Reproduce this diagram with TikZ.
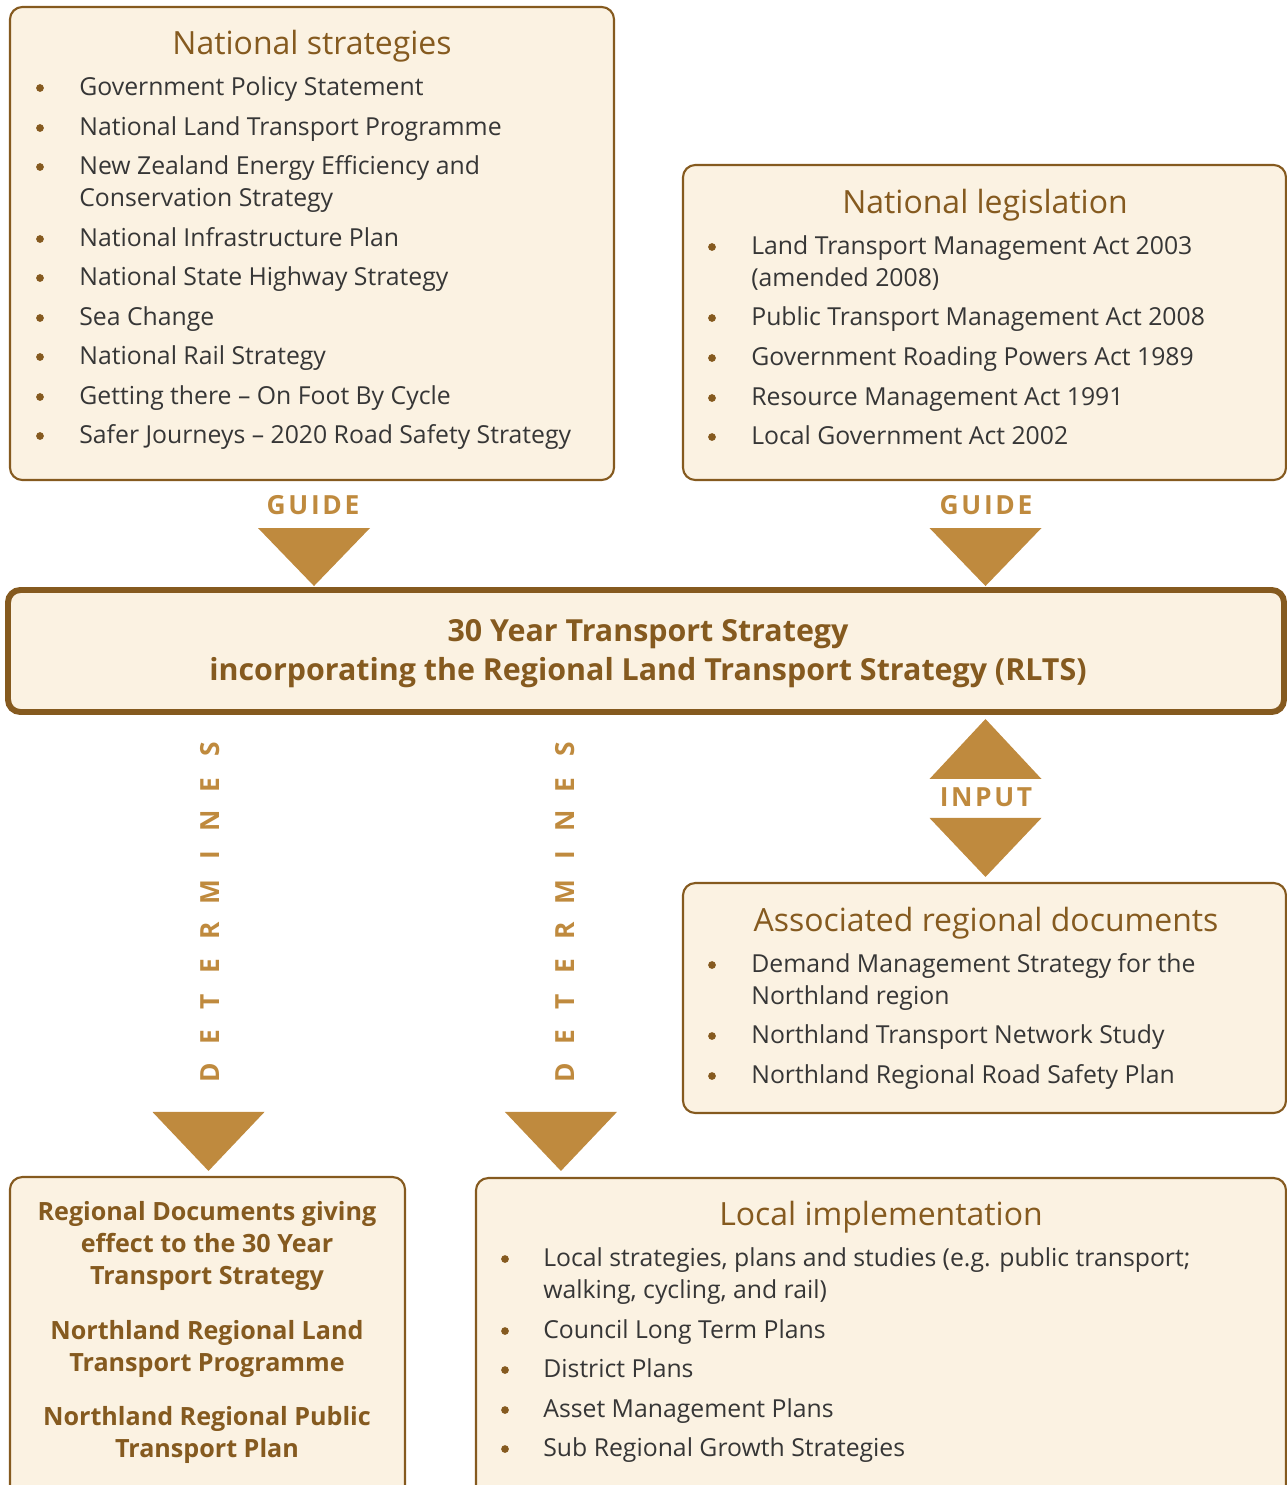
\documentclass[tikz,border=0pt]{standalone}
\usepackage{fontspec}
\setmainfont{Open Sans}
\usetikzlibrary{calc,fit}
\definecolor{nrcbrown}{HTML}{855A1F}
\definecolor{nrcgold}{HTML}{BF8A3E}
\definecolor{nrccream}{HTML}{FBF2E2}
\definecolor{nrctext}{HTML}{363636}
\tikzset{
  box/.style={draw=nrcbrown,fill=nrccream,line width=1.2pt,rounded corners=7pt,inner sep=0pt},
  bigbox/.style={box,line width=3.4pt},
  ttl/.style={anchor=base,text=nrcbrown,font=\fontsize{18.2}{22}\selectfont,inner sep=0pt},
  itm/.style={anchor=base west,text=nrctext,font=\fontsize{14.1}{18}\selectfont,inner sep=0pt},
  bld/.style={anchor=base,text=nrcbrown,font=\fontsize{14.3}{18}\selectfont\bfseries,inner sep=0pt},
  cue/.style={anchor=base,text=nrcgold,font=\fontsize{15}{18}\selectfont\bfseries\addfontfeature{LetterSpace=10},inner sep=0pt},
  det/.style={rotate=90,text=nrcgold,font=\fontsize{15}{18}\selectfont\bfseries,inner sep=0pt},
  tri/.style={fill=nrcgold},
  dot/.style={fill=nrcbrown},
}

\begin{document}
\begin{tikzpicture}[x=0.02cm,y=-0.02cm]
  \useasboundingbox (0,0) rectangle (1287,1485);
  % boxes
  \node[box,fit={(10,7)(614,480)}] (ns) {};
  \node[box,fit={(683,165)(1286,480)}] (leg) {};
  \node[bigbox,fit={(8,590)(1284,712)}] (rlts) {};
  \node[box,fit={(683,883)(1286,1113)}] (assoc) {};
  \node[box,fit={(10,1177)(405,1500)}] (regdoc) {};
  \node[box,fit={(476,1178)(1286,1500)}] (local) {};

  % titles
  \node[ttl] (ns-t) at (312,54) {National strategies};
  \node[ttl] (leg-t) at (985,213) {National legislation};
  \node[ttl] (assoc-t) at (986,931) {Associated regional documents};
  \node[ttl] (local-t) at (881,1225) {Local implementation};

  % national strategies
  \foreach \y/\t [count=\i] in {95/Government Policy Statement,135/National Land Transport Programme,
      174/New Zealand Energy Efficiency and,206/Conservation Strategy,246/National Infrastructure Plan,
      285/National State Highway Strategy,325/Sea Change,364/National Rail Strategy,
      404/Getting there – On Foot By Cycle,443/Safer Journeys – 2020 Road Safety Strategy}
    \node[itm] (ns-\i) at (79,\y) {\t};
  \foreach \y in {88,128,167,239,278,318,357,397,436}
    \fill[dot] (40,\y) circle (2.2pt);

  % national legislation
  \foreach \y/\t [count=\i] in {254/Land Transport Management Act 2003,286/(amended 2008),
      325/Public Transport Management Act 2008,365/Government Roading Powers Act 1989,
      405/Resource Management Act 1991,444/Local Government Act 2002}
    \node[itm] (leg-\i) at (751,\y) {\t};
  \foreach \y in {247,318,358,398,437}
    \fill[dot] (712,\y) circle (2.2pt);

  % associated regional documents
  \foreach \y/\t [count=\i] in {972/Demand Management Strategy for the,1004/Northland region,
      1043/Northland Transport Network Study,1083/Northland Regional Road Safety Plan}
    \node[itm] (assoc-\i) at (751,\y) {\t};
  \foreach \y in {965,1036,1076}
    \fill[dot] (712,\y) circle (2.2pt);

  % local implementation
  \foreach \y/\t [count=\i] in {1266/{Local strategies, plans and studies (e.g. public transport;},
      1298/{walking, cycling, and rail)},1338/Council Long Term Plans,1377/District Plans,
      1417/Asset Management Plans,1456/Sub Regional Growth Strategies}
    \node[itm] (local-\i) at (543,\y) {\t};
  \foreach \y in {1259,1331,1370,1410,1449}
    \fill[dot] (505,\y) circle (2.2pt);

  % 30 year strategy
  \node[bld,font=\fontsize{17.3}{20}\selectfont\bfseries] (rlts-a) at (648,641) {30 Year Transport Strategy};
  \node[bld,font=\fontsize{17.3}{20}\selectfont\bfseries] (rlts-b) at (648,680)
    {incorporating the Regional Land Transport Strategy (RLTS)};

  % regional documents
  \foreach \y/\t [count=\i] in {1220/Regional Documents giving,1252/effect to the 30 Year,
      1284/Transport Strategy,1339/Northland Regional Land,1371/Transport Programme,
      1425/Northland Regional Public,1457/Transport Plan}
    \node[bld] (rd-\i) at (207,\y) {\t};

  % guide / input / determines
  \node[cue] (guide-a) at (313,514) {GUIDE};
  \node[cue] (guide-b) at (986,514) {GUIDE};
  \node[cue] (input) at (986,806) {INPUT};
  \fill[tri] ($(ns.south |- rlts.north)+(2,-1)$) -- ++(-56,-58) -- ++(112,0) -- cycle;
  \fill[tri] ($(leg.south |- rlts.north)+(1,-1)$) -- ++(-56,-58) -- ++(112,0) -- cycle;
  \fill[tri] ($(leg.south |- rlts.south)+(1,4)$) -- ++(-56,60) -- ++(112,0) -- cycle;
  \fill[tri] ($(assoc.north)+(1,-5)$) -- ++(-56,-59) -- ++(112,0) -- cycle;
  \fill[tri] ($(regdoc.north)+(1,-5)$) -- ++(-56,-59) -- ++(112,0) -- cycle;
  \fill[tri] ($(local.north west)+(86,-6)$) -- ++(-56,-59) -- ++(112,0) -- cycle;
  \foreach \c/\y [count=\i] in {D/1073,E/1037,T/1002,E/966,R/931,M/892,I/855,N/821,E/785,S/749}{
    \node[det] (det-a-\i) at (210,\y) {\c};
    \node[det] (det-b-\i) at (565,\y) {\c};
  }
\end{tikzpicture}
\end{document}
